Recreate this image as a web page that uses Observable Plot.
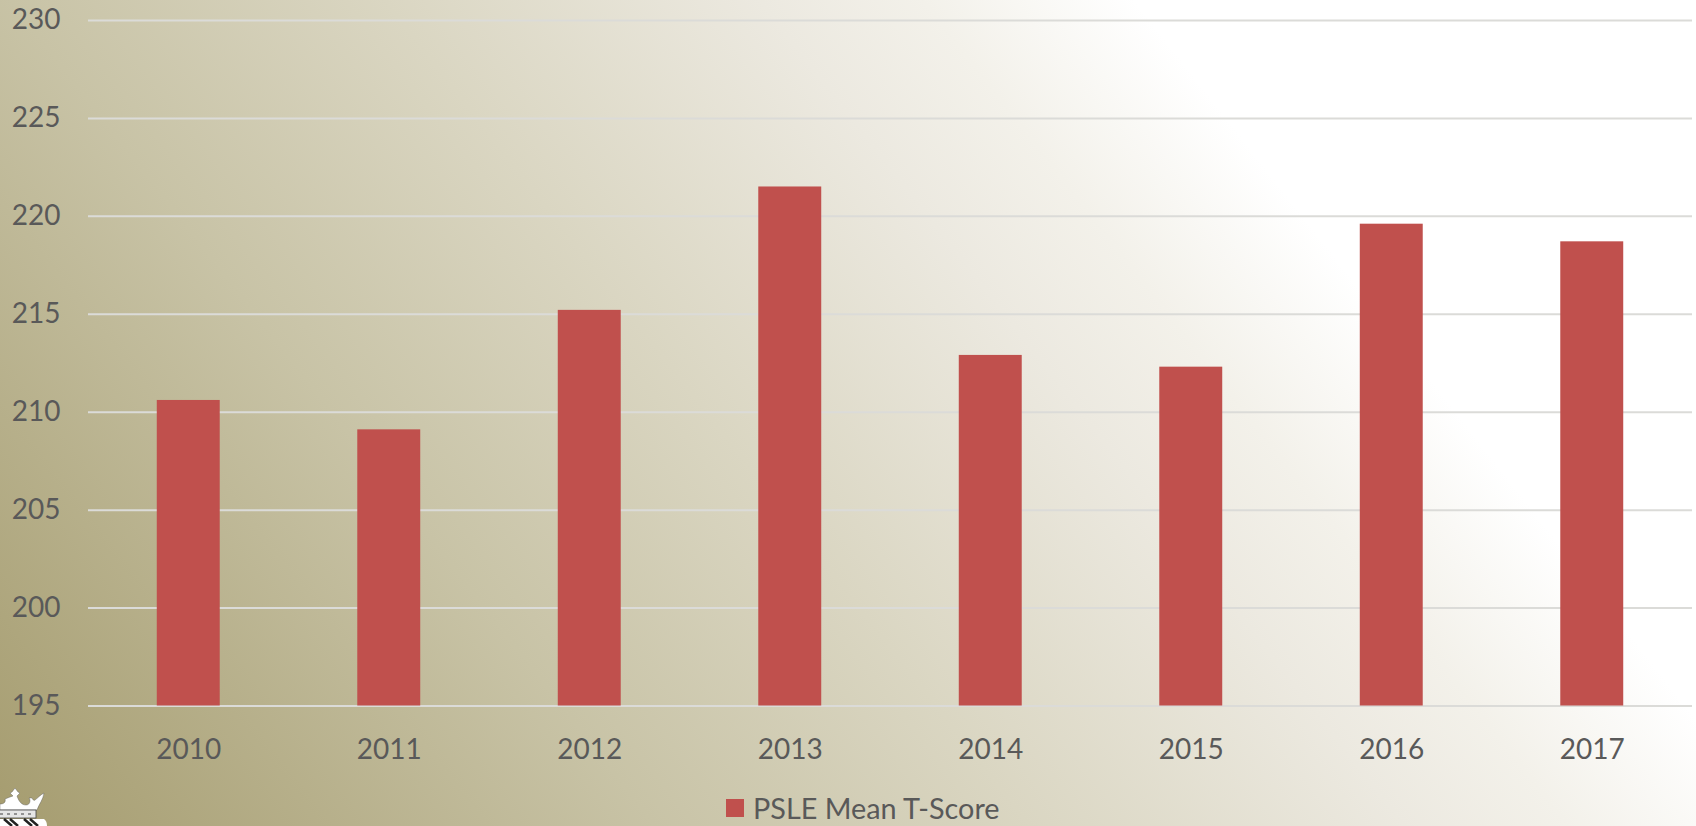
<!DOCTYPE html>
<html><head><meta charset="utf-8">
<script src="https://cdn.jsdelivr.net/npm/d3@7"></script>
<script src="https://cdn.jsdelivr.net/npm/@observablehq/plot@0.6"></script>
<style>
html,body{margin:0;padding:0;width:1696px;height:826px;overflow:hidden}
body{position:relative;background:linear-gradient(52deg,#a59c6f 0%,#c8c3a6 28%,#dad6c2 44%,#ece9e0 60%,#f3f1ea 67%,#ffffff 76%,#ffffff 100%);font-family:Lato,sans-serif}
#chart svg{display:block;background:transparent}
#legend{position:absolute;left:726px;top:794px;height:28px;display:flex;align-items:center;color:#595959;font-size:28.8px;white-space:nowrap}
#legend i{display:block;width:18px;height:18px;background:#c0504d;margin-right:9px}
#crest{position:absolute;left:0;top:780px}
</style></head><body>
<div id="chart"></div>
<div id="legend"><i></i><span>PSLE Mean T-Score</span></div>
<svg id="crest" width="60" height="46" viewBox="0 0 60 46">
  <path d="M15 8 L18 12 L20 13 L17 16 C19 22 22 25 26 25 C30 25 31 20 29 18 L32 18 C33 20 34 21 35 20 C38 18 40 15 44 13 C43 20 39 24 37 30 H0 V24 C4 24 6 22 5 19 L10 17 L13 16 L10 13 L12 12 Z" fill="#fff" stroke="#555" stroke-width=".4"/>
  <rect x="-1" y="30" width="37" height="8" fill="#e6e6e6" stroke="#444" stroke-width=".8"/>
  <path d="M0 34 H35" stroke="#777" stroke-width="1.5" stroke-dasharray="3 4"/>
  <path d="M0 39 H44 Q47 41 47 46 H0 Z" fill="#fff"/>
  <path d="M4 39 L12 46 M10 39 L18 46 M24 39 L32 46 M30 39 L38 46" stroke="#222" stroke-width="2.5"/>
</svg>
<script>
const years=["2010","2011","2012","2013","2014","2015","2016","2017"];
const scores=[210.6,209.1,215.2,221.5,212.9,212.3,219.6,218.7];
const yTicks=[195,200,205,210,215,220,225,230];
const baseline=195;
const data=years.map((year,i)=>({year,score:scores[i]}));
const plot=Plot.plot({
  width:1696,height:790,
  marginLeft:88,marginRight:4,marginTop:20,marginBottom:84.5,
  style:{background:"transparent",fontFamily:"Lato, sans-serif"},
  x:{domain:years,paddingInner:0.686,paddingOuter:0.343,round:false,label:null},
  y:{domain:[195,230],label:null},
  marks:[
    Plot.gridY(yTicks,{stroke:"#dbdbd8",strokeOpacity:1,strokeWidth:2}),
    Plot.barY(data,{x:"year",y1:baseline,y2:"score",fill:"#c0504d"}),
    Plot.axisY({ticks:yTicks,tickSize:0,tickPadding:28,fontSize:28,color:"#595959",label:null}),
    Plot.axisX({tickSize:0,tickPadding:33,fontSize:28,color:"#595959",label:null})
  ]
});
document.getElementById("chart").append(plot);
</script>
</body></html>
